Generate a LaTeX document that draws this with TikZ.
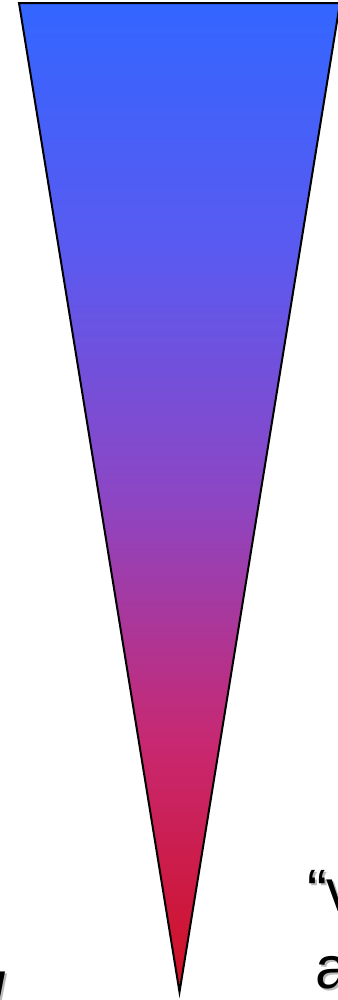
\documentclass[tikz,border=0pt]{standalone}
\usepackage{fontspec}
\setmainfont{Liberation Sans}
\usetikzlibrary{positioning}

\definecolor{funtop}{RGB}{51,102,255}
\definecolor{funqa}{RGB}{90,90,240}
\definecolor{funmid}{RGB}{140,70,196}
\definecolor{funqb}{RGB}{200,40,112}
\definecolor{funbot}{RGB}{208,16,34}
\definecolor{shadowgray}{RGB}{185,185,185}

\pgfdeclareverticalshading{funnelshade}{100bp}{%
  color(0bp)=(funbot); color(25bp)=(funbot); color(37.5bp)=(funqb);
  color(50bp)=(funmid); color(62.5bp)=(funqa); color(75bp)=(funtop);
  color(100bp)=(funtop)}

\tikzset{
  funnel/.style = {
    draw=black, line width=0.06cm, line join=miter,
    shade, shading=funnelshade
  },
  bigtxt/.style = {
    inner sep=0pt, outer sep=0pt, text=black,
    font=\fontsize{51}{64}\selectfont
  },
  shadowtxt/.style = {bigtxt, text=shadowgray}
}

\begin{document}
\begin{tikzpicture}[x=0.03cm, y=-0.03cm]

\useasboundingbox (0,0) rectangle (338,1000);
\clip (0,0) rectangle (338,1000);

%% funnel corners
\coordinate (tl)  at (19,3);
\coordinate (tr)  at (340,3);
\coordinate (tip) at (179.5,992);

\path[funnel] (tl) -- (tr) -- (tip) -- cycle;

%% shadows of the cut texts
\node[shadowtxt, anchor=base west] (qvs) at (309,913) {“v};
\node[shadowtxt, anchor=base west] (as)  at (317,990) {a};
\node[shadowtxt, anchor=base west, font=\fontsize{51}{64}\selectfont\itshape]
      (us) at (-24,1005) {u};

%% texts
\node[bigtxt, anchor=base west] (qv) at (307,911) {“v};
\node[bigtxt, anchor=base west] (a)  at (315,988) {a};
\node[bigtxt, anchor=base west, font=\fontsize{51}{64}\selectfont\itshape]
      (u) at (-26,1003) {u};

\end{tikzpicture}
\end{document}
